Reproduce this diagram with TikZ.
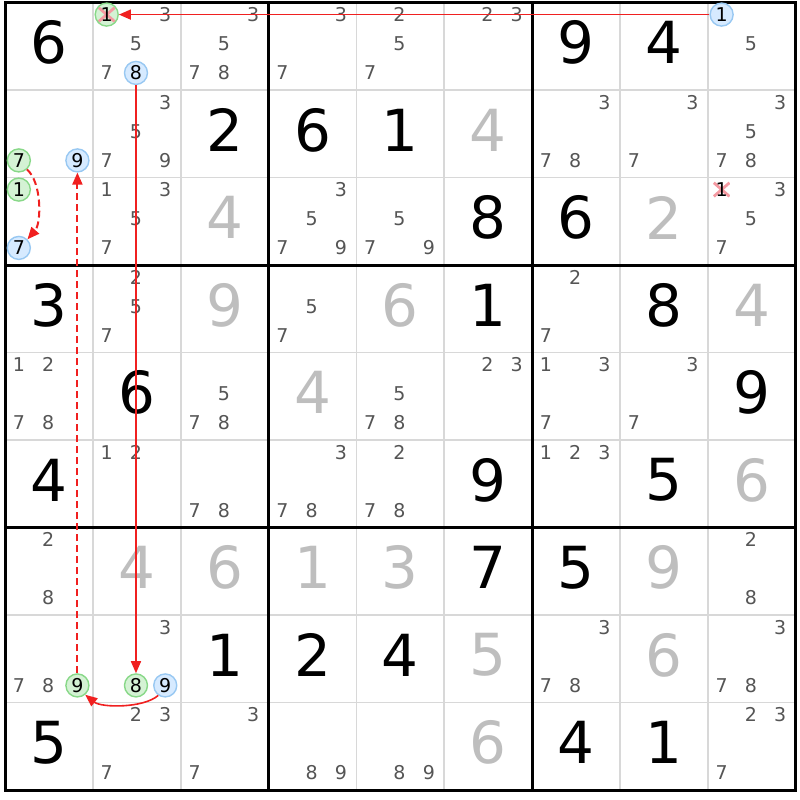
\documentclass[tikz,border=0pt]{standalone}
\usepackage{fontspec}
\setmainfont{DejaVu Sans}
\usetikzlibrary{arrows.meta}
\definecolor{candgray}{HTML}{555555}
\definecolor{solvedgray}{HTML}{BEBEBE}
\definecolor{thinline}{HTML}{D8D8D8}
\definecolor{arrowred}{HTML}{F02020}
\definecolor{greenfill}{HTML}{D4F2D4}
\definecolor{greenline}{HTML}{88D888}
\definecolor{bluefill}{HTML}{D6EAFF}
\definecolor{blueline}{HTML}{98C8F2}
\definecolor{xpink}{HTML}{F59AA2}
\tikzset{
 given/.style={font=\fontsize{58}{58}\selectfont, text=black, inner sep=0pt},
 solved/.style={given, text=solvedgray},
 cand/.style={font=\fontsize{19}{19}\selectfont, text=candgray, inner sep=0pt},
 markg/.style={cand, text=black, circle, minimum size=23pt, inner sep=0pt, draw=greenline, fill=greenfill, line width=1.4pt},
 markb/.style={markg, draw=blueline, fill=bluefill},
 plainx/.style={cand, text=black, circle, minimum size=21pt, fill=white},
 xcross/.style={path picture={\draw[xpink, line width=2.8pt] (path picture bounding box.center) ++(-8,-7) -- ++(16,14) ++(0,-14) -- ++(-16,14);}},
 redarr/.style={draw=arrowred, line width=1.6pt, -{Triangle[length=12pt,width=10pt]}},
 reddash/.style={draw=arrowred, line width=2pt, dash pattern=on 7pt off 4pt, -{Triangle[length=12pt,width=10pt]}},
 thingrid/.style={draw=thinline, line width=1.8pt},
 thickgrid/.style={draw=black, line width=3pt},
}
\newcommand\PutGiven[4][given]{\node[#1] (g#2#3) at ({5+87.85*(#3-0.5)},{2.5+87.5*(#2-0.5)-3.5}) {#4};}
\newcommand\PutMark[4]{%
 \pgfmathtruncatemacro\mysc{mod(#3-1,3)}%
 \pgfmathtruncatemacro\mysr{int((#3-1)/3)}%
 \node[#4] (k#1#2#3) at ({5+87.85*(#2-1)+87.85*(2*\mysc+1)/6-0.8},{2.5+87.5*(#1-1)+87.5*(2*\mysr+1)/6-2.5}) {#3};}
\newcommand\PutCands[3]{\foreach \d in {#3}{\PutMark{#1}{#2}{\d}{cand}}}
\begin{document}
\begin{tikzpicture}[x=1pt,y=-1pt]
\useasboundingbox (0,0) rectangle (800,800);
\fill[white] (0,0) rectangle (800,800);
% grid
\foreach \i in {1,2,4,5,7,8}{
 \draw[thingrid] ({5+87.85*\i},2.5) -- ({5+87.85*\i},790);
 \draw[thingrid] (5,{2.5+87.5*\i}) -- (795.65,{2.5+87.5*\i});
}
\foreach \i in {3,6}{
 \draw[thickgrid] ({5+87.85*\i},2.5) -- ({5+87.85*\i},790);
 \draw[thickgrid] (5,{2.5+87.5*\i}) -- (795.65,{2.5+87.5*\i});
}
\draw[thickgrid] (5,2.5) rectangle (795.65,790);
% given digits
\PutGiven{1}{1}{6}\PutGiven{1}{7}{9}\PutGiven{1}{8}{4}
\PutGiven{2}{3}{2}\PutGiven{2}{4}{6}\PutGiven{2}{5}{1}\PutGiven[solved]{2}{6}{4}
\PutGiven[solved]{3}{3}{4}\PutGiven{3}{6}{8}\PutGiven{3}{7}{6}\PutGiven[solved]{3}{8}{2}
\PutGiven{4}{1}{3}\PutGiven[solved]{4}{3}{9}\PutGiven[solved]{4}{5}{6}\PutGiven{4}{6}{1}\PutGiven{4}{8}{8}\PutGiven[solved]{4}{9}{4}
\PutGiven{5}{2}{6}\PutGiven[solved]{5}{4}{4}\PutGiven{5}{9}{9}
\PutGiven{6}{1}{4}\PutGiven{6}{6}{9}\PutGiven{6}{8}{5}\PutGiven[solved]{6}{9}{6}
\PutGiven[solved]{7}{2}{4}\PutGiven[solved]{7}{3}{6}\PutGiven[solved]{7}{4}{1}\PutGiven[solved]{7}{5}{3}\PutGiven{7}{6}{7}\PutGiven{7}{7}{5}\PutGiven[solved]{7}{8}{9}
\PutGiven{8}{3}{1}\PutGiven{8}{4}{2}\PutGiven{8}{5}{4}\PutGiven[solved]{8}{6}{5}\PutGiven[solved]{8}{8}{6}
\PutGiven{9}{1}{5}\PutGiven[solved]{9}{6}{6}\PutGiven{9}{7}{4}\PutGiven{9}{8}{1}
% candidates
\PutCands{1}{2}{3,5,7}\PutCands{1}{3}{3,5,7,8}\PutCands{1}{4}{3,7}\PutCands{1}{5}{2,5,7}\PutCands{1}{6}{2,3}\PutCands{1}{9}{5}
\PutCands{2}{2}{3,5,7,9}\PutCands{2}{7}{3,7,8}\PutCands{2}{8}{3,7}\PutCands{2}{9}{3,5,7,8}
\PutCands{3}{2}{1,3,5,7}\PutCands{3}{4}{3,5,7,9}\PutCands{3}{5}{5,7,9}\PutCands{3}{9}{3,5,7}
\PutCands{4}{2}{2,5,7}\PutCands{4}{4}{5,7}\PutCands{4}{7}{2,7}
\PutCands{5}{1}{1,2,7,8}\PutCands{5}{3}{5,7,8}\PutCands{5}{5}{5,7,8}\PutCands{5}{6}{2,3}\PutCands{5}{7}{1,3,7}\PutCands{5}{8}{3,7}
\PutCands{6}{2}{1,2}\PutCands{6}{3}{7,8}\PutCands{6}{4}{3,7,8}\PutCands{6}{5}{2,7,8}\PutCands{6}{7}{1,2,3}
\PutCands{7}{1}{2,8}\PutCands{7}{9}{2,8}
\PutCands{8}{1}{7,8}\PutCands{8}{2}{3}\PutCands{8}{7}{3,7,8}\PutCands{8}{9}{3,7,8}
\PutCands{9}{2}{2,3,7}\PutCands{9}{3}{3,7}\PutCands{9}{4}{8,9}\PutCands{9}{5}{8,9}\PutCands{9}{9}{2,3,7}
% marked candidates
\PutMark{1}{2}{1}{markg,xcross}
\PutMark{1}{2}{8}{markb}
\PutMark{1}{9}{1}{markb}
\PutMark{2}{1}{7}{markg}
\PutMark{2}{1}{9}{markb}
\PutMark{3}{1}{1}{markg}
\PutMark{3}{1}{7}{markb}
\PutMark{3}{9}{1}{plainx,xcross}
\PutMark{8}{1}{9}{markg}
\PutMark{8}{2}{8}{markg}
\PutMark{8}{2}{9}{markb}
% chain
\draw[redarr] (k191) -- (k121);
\draw[redarr] (k128) -- (k828);
\draw[redarr] (k829.235) .. controls +(-15,13) and +(16,13) .. (k819.310);
\draw[reddash] (k819) -- (k219);
\draw[reddash] (k217.312) .. controls +(15,13) and +(14,-16) .. (k317.45);
\end{tikzpicture}
\end{document}
